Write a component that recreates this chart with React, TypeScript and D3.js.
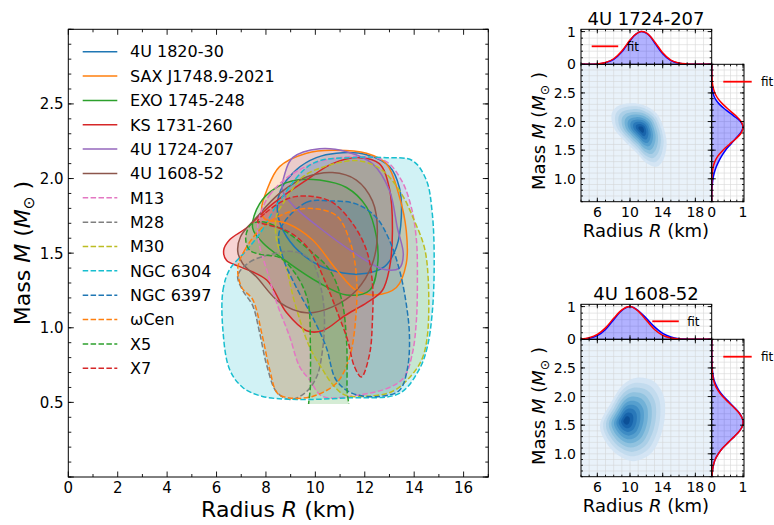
import React from "react";
import * as d3 from "d3";

type P = [number, number];

// ================= MAIN CHART DATA (Radius km, Mass Msun) =================
const sourceNames = [
  "4U 1820-30", "SAX J1748.9-2021", "EXO 1745-248", "KS 1731-260", "4U 1724-207", "4U 1608-52",
  "M13", "M28", "M30", "NGC 6304", "NGC 6397", "ωCen", "X5", "X7",
];
const sourceKinds = ["burst", "burst", "burst", "burst", "burst", "burst",
  "qlmxb", "qlmxb", "qlmxb", "qlmxb", "qlmxb", "qlmxb", "qlmxb", "qlmxb"];
const massPriorMin = 0.49;

const c4U1820: P[] = [[10.04, 2.14], [10.85, 2.17], [12.07, 2.16], [13.0, 2.08], [13.4, 1.94], [13.48, 1.74], [13.28, 1.54], [12.8, 1.41], [11.78, 1.36], [10.57, 1.39], [9.64, 1.47], [8.84, 1.61], [8.47, 1.77], [8.59, 1.92], [9.24, 2.06]];
const cSAX: P[] = [[7.82, 1.79], [8.03, 1.92], [8.55, 2.08], [9.64, 2.17], [10.7, 2.19], [12.07, 2.17], [12.87, 2.1], [13.4, 1.88], [13.68, 1.65], [13.68, 1.43], [13.28, 1.27], [12.39, 1.22], [11.66, 1.25], [10.85, 1.39], [9.88, 1.59], [8.84, 1.7], [7.95, 1.73]];
const cEXO: P[] = [[7.74, 1.83], [8.43, 1.94], [9.24, 1.99], [10.17, 1.99], [11.26, 1.94], [12.07, 1.81], [12.47, 1.61], [12.51, 1.41], [12.19, 1.25], [11.26, 1.22], [10.17, 1.3], [8.96, 1.43], [7.87, 1.57], [7.46, 1.67]];
const cKS: P[] = [[6.29, 1.52], [6.53, 1.59], [7.22, 1.67], [8.27, 1.83], [9.64, 1.99], [10.69, 2.1], [11.78, 2.14], [12.59, 2.1], [12.99, 1.94], [13.12, 1.65], [12.99, 1.39], [12.71, 1.25], [12.1, 1.17], [11.18, 1.08], [10.29, 0.98], [9.64, 0.98], [8.84, 1.1], [8.03, 1.32], [6.94, 1.41], [6.41, 1.45]];
const c4U1724: P[] = [[8.67, 1.92], [8.76, 2.03], [9.08, 2.14], [10.17, 2.2], [11.26, 2.18], [12.31, 2.1], [13.0, 1.92], [13.32, 1.67], [13.56, 1.49], [13.4, 1.4], [12.8, 1.39], [11.5, 1.51], [10.17, 1.67], [9.16, 1.81]];
const c4U1608: P[] = [[6.86, 1.51], [6.97, 1.61], [7.62, 1.74], [8.55, 1.9], [9.64, 2.01], [10.69, 2.04], [11.66, 1.99], [12.31, 1.85], [12.51, 1.65], [12.31, 1.43], [11.66, 1.25], [10.69, 1.14], [9.64, 1.1], [8.55, 1.17], [7.62, 1.34], [7.06, 1.43]];
const cM13: P[] = [[7.67, 1.69], [8.15, 1.89], [9.36, 2.06], [10.98, 2.14], [12.8, 2.12], [13.48, 1.99], [13.88, 1.81], [14.09, 1.59], [14.13, 1.32], [14.09, 1.05], [13.93, 0.83], [13.6, 0.67], [13.0, 0.6], [11.78, 0.55], [10.29, 0.54], [9.77, 0.65], [9.36, 0.74], [8.96, 0.94], [8.43, 1.17], [8.03, 1.39], [7.74, 1.55]];
const cM28: P[] = [[6.86, 1.35], [7.34, 1.44], [8.15, 1.49], [9.15, 1.51], [9.84, 1.45], [10.25, 1.25], [10.37, 1.05], [10.29, 0.85], [10.05, 0.67], [9.56, 0.56], [8.96, 0.52], [8.43, 0.57], [8.03, 0.75], [7.74, 0.97], [7.46, 1.15], [7.06, 1.25]];
const cM30: P[] = [[8.43, 1.75], [8.84, 1.87], [9.48, 2.01], [10.37, 2.08], [11.7, 2.12], [12.67, 2.06], [13.48, 1.9], [14.0, 1.72], [14.41, 1.54], [14.57, 1.32], [14.53, 0.94], [14.29, 0.78], [13.72, 0.65], [13.07, 0.57], [11.98, 0.54], [11.18, 0.55], [10.65, 0.63], [10.29, 0.72], [9.77, 0.87], [9.16, 1.17], [8.84, 1.39], [8.43, 1.59]];
const cNGC6304: P[] = [[6.26, 0.98], [6.26, 1.25], [6.53, 1.39], [7.22, 1.52], [7.83, 1.65], [8.55, 1.85], [9.88, 2.1], [11.5, 2.14], [12.87, 2.14], [13.93, 2.12], [14.49, 1.99], [14.73, 1.77], [14.81, 1.43], [14.73, 1.1], [14.53, 0.87], [14.2, 0.72], [13.4, 0.56], [11.26, 0.53], [9.24, 0.52], [7.86, 0.54], [7.06, 0.6], [6.53, 0.72]];
const cNGC6397: P[] = [[8.55, 1.65], [9.63, 1.84], [10.57, 1.85], [11.65, 1.83], [12.46, 1.74], [12.99, 1.59], [13.4, 1.39], [13.67, 1.17], [13.81, 0.94], [13.72, 0.72], [13.4, 0.58], [12.59, 0.54], [11.5, 0.56], [10.84, 0.65], [10.44, 0.87], [9.89, 1.07], [9.23, 1.27], [8.67, 1.48]];
const cOmegaCen: P[] = [[6.86, 1.4], [7.14, 1.52], [7.83, 1.67], [8.83, 1.77], [9.88, 1.8], [10.86, 1.75], [11.38, 1.59], [11.65, 1.37], [11.65, 1.1], [11.38, 0.8], [10.86, 0.63], [9.88, 0.54], [8.96, 0.53], [8.47, 0.56], [8.15, 0.72], [7.86, 0.94], [7.46, 1.19], [7.02, 1.27]];
const cX5: P[] = [[7.38, 1.69], [7.83, 1.71], [8.75, 1.65], [9.76, 1.52], [10.57, 1.39], [11.06, 1.19], [11.26, 0.92], [11.28, 0.6], [11.27, 0.4], [9.83, 0.4], [9.8, 0.62], [9.8, 0.85], [9.68, 1.19], [9.16, 1.37], [8.55, 1.47], [7.83, 1.49], [7.34, 1.52], [7.18, 1.6]];
const cX7: P[] = [[7.66, 1.71], [7.98, 1.77], [8.96, 1.87], [9.88, 1.88], [10.69, 1.84], [11.5, 1.7], [12.07, 1.52], [12.31, 1.3], [12.31, 1.05], [12.19, 0.82], [11.86, 0.67], [11.58, 0.74], [11.3, 0.92], [10.9, 1.1], [10.37, 1.32], [9.77, 1.52], [8.96, 1.64], [8.07, 1.69]];

const contourList: P[][] = [c4U1820, cSAX, cEXO, cKS, c4U1724, c4U1608, cM13, cM28, cM30, cNGC6304, cNGC6397, cOmegaCen, cX5, cX7];
const palette = ["#1f77b4", "#ff7f0e", "#2ca02c", "#d62728", "#9467bd", "#8c564b",
  "#e377c2", "#7f7f7f", "#bcbd22", "#17becf", "#1f77b4", "#ff7f0e", "#2ca02c", "#d62728"];

const xTicksMain = [0, 2, 4, 6, 8, 10, 12, 14, 16];
const yTicksMain = [0.5, 1.0, 1.5, 2.0, 2.5];

// ================= SIDE PANELS DATA =================
const panelTitles = ["4U 1724-207", "4U 1608-52"];
const kdeOutline1724: P[] = [[8.37, 2.26], [10.0, 2.32], [11.63, 2.29], [13.27, 2.14], [14.07, 1.91], [14.49, 1.62], [14.07, 1.33], [13.27, 1.21], [12.04, 1.27], [10.82, 1.45], [9.18, 1.68], [7.95, 1.91], [7.76, 2.14]];
const kdeCenter1724: P = [11.4, 1.87];
const kdeOutline1608: P[] = [[6.33, 1.51], [7.55, 1.86], [9.18, 2.21], [10.82, 2.33], [12.85, 2.27], [14.07, 2.03], [14.28, 1.68], [13.67, 1.28], [12.45, 0.99], [10.4, 0.87], [8.37, 0.99], [6.73, 1.28]];
const kdeCenter1608: P = [9.5, 1.58];
const kdeLevelScales = [1, 0.88, 0.77, 0.66, 0.56, 0.46, 0.37, 0.28, 0.19, 0.1];

const topBlue1724: P[] = [[4, 0], [5, 0], [6, 0.01], [7, 0.05], [8, 0.15], [9, 0.38], [9.5, 0.55], [10, 0.72], [10.5, 0.87], [11, 0.97], [11.4, 1.0], [12, 0.95], [12.5, 0.84], [13, 0.66], [13.5, 0.48], [14, 0.32], [15, 0.11], [16, 0.03], [17, 0.005], [18, 0], [19, 0], [20, 0]];
const topRed1724: P[] = [[4, 0], [5, 0.002], [6, 0.012], [7, 0.055], [8, 0.17], [9, 0.41], [9.5, 0.57], [10, 0.74], [10.5, 0.88], [11, 0.97], [11.4, 1.0], [12, 0.96], [12.5, 0.85], [13, 0.69], [13.5, 0.52], [14, 0.35], [15, 0.13], [16, 0.04], [17, 0.01], [18, 0], [19, 0], [20, 0]];
const rightBlue1724: P[] = [[0.6, 0], [0.8, 0.005], [0.9, 0.02], [1.0, 0.04], [1.1, 0.08], [1.2, 0.14], [1.3, 0.22], [1.4, 0.32], [1.5, 0.44], [1.6, 0.6], [1.7, 0.76], [1.8, 0.92], [1.9, 1.0], [2.0, 0.92], [2.1, 0.7], [2.2, 0.46], [2.3, 0.25], [2.4, 0.11], [2.5, 0.04], [2.6, 0.01], [2.7, 0], [3.0, 0]];
const rightRed1724: P[] = [[0.6, 0], [0.9, 0.002], [1.0, 0.006], [1.1, 0.017], [1.2, 0.044], [1.3, 0.1], [1.4, 0.2], [1.5, 0.36], [1.6, 0.56], [1.7, 0.77], [1.8, 0.94], [1.9, 1.0], [2.0, 0.94], [2.1, 0.77], [2.2, 0.56], [2.3, 0.36], [2.4, 0.2], [2.5, 0.1], [2.6, 0.044], [2.7, 0.017], [2.8, 0.006], [3.0, 0]];
const topBlue1608: P[] = [[4, 0.005], [5, 0.03], [6, 0.11], [7, 0.3], [8, 0.6], [9, 0.88], [10, 1.0], [11, 0.88], [12, 0.64], [13, 0.38], [14, 0.18], [15, 0.07], [16, 0.02], [17, 0.005], [18, 0], [20, 0]];
const topRed1608: P[] = [[4, 0.01], [5, 0.05], [6, 0.15], [7, 0.35], [8, 0.64], [9, 0.9], [10, 1.0], [11, 0.86], [12, 0.58], [13, 0.3], [14, 0.12], [15, 0.04], [16, 0.01], [17, 0.002], [18, 0], [20, 0]];
const rightBlue1608: P[] = [[0.6, 0.01], [0.7, 0.025], [0.8, 0.055], [0.9, 0.11], [1.0, 0.21], [1.1, 0.35], [1.2, 0.53], [1.3, 0.72], [1.4, 0.89], [1.5, 0.99], [1.55, 1.0], [1.6, 0.99], [1.7, 0.9], [1.8, 0.74], [1.9, 0.56], [2.0, 0.38], [2.1, 0.24], [2.2, 0.14], [2.3, 0.07], [2.4, 0.035], [2.5, 0.015], [2.6, 0.005], [2.8, 0], [3.0, 0]];
const rightRed1608: P[] = [[0.6, 0.009], [0.7, 0.023], [0.8, 0.053], [0.9, 0.11], [1.0, 0.21], [1.1, 0.35], [1.2, 0.53], [1.3, 0.72], [1.4, 0.89], [1.5, 0.99], [1.55, 1.0], [1.6, 0.99], [1.7, 0.89], [1.8, 0.72], [1.9, 0.53], [2.0, 0.35], [2.1, 0.21], [2.2, 0.11], [2.3, 0.053], [2.4, 0.023], [2.5, 0.009], [2.6, 0.003], [2.8, 0], [3.0, 0]];

const jointXTicks = [6, 10, 14, 18];
const jointYTicks = [1.0, 1.5, 2.0, 2.5];
const margTicks = [0, 1];

const FONT = "DejaVu Sans, sans-serif";

function range(a: number, b: number, s: number) {
  const out: number[] = [];
  for (let v = a; v <= b + 1e-9; v += s) out.push(Math.round(v * 1000) / 1000);
  return out;
}

function TickFrame({ x, y, xMaj, xMin, yMaj, yMin, lMaj, lMin }: any) {
  const [x0, x1] = x.range();
  const [y0, y1] = y.range();
  const lines: any[] = [];
  const add = (list: number[], len: number, key: string) => {
    list.forEach((v, i) => {
      const px = x(v);
      if (px < x0 - 0.1 || px > x1 + 0.1) return;
      lines.push(<line key={key + "b" + i} x1={px} x2={px} y1={y0} y2={y0 - len} />);
      lines.push(<line key={key + "t" + i} x1={px} x2={px} y1={y1} y2={y1 + len} />);
    });
  };
  const addY = (list: number[], len: number, key: string) => {
    list.forEach((v, i) => {
      const py = y(v);
      if (py > y0 + 0.1 || py < y1 - 0.1) return;
      lines.push(<line key={key + "l" + i} x1={x0} x2={x0 + len} y1={py} y2={py} />);
      lines.push(<line key={key + "r" + i} x1={x1} x2={x1 - len} y1={py} y2={py} />);
    });
  };
  add(xMin, lMin, "xm");
  add(xMaj, lMaj, "xM");
  addY(yMin, lMin, "ym");
  addY(yMaj, lMaj, "yM");
  return (
    <g stroke="#000" strokeWidth={0.9}>
      {lines}
      <rect x={x0} y={y1} width={x1 - x0} height={y0 - y1} fill="none" stroke="#000" strokeWidth={1} />
    </g>
  );
}

function Grid({ x, y, xs, ys }: any) {
  const [x0, x1] = x.range();
  const [y0, y1] = y.range();
  return (
    <g stroke="#cfcfcf" strokeWidth={0.6} opacity={0.8}>
      {xs.map((v: number, i: number) => <line key={"gx" + i} x1={x(v)} x2={x(v)} y1={y0} y2={y1} />)}
      {ys.map((v: number, i: number) => <line key={"gy" + i} x1={x0} x2={x1} y1={y(v)} y2={y(v)} />)}
    </g>
  );
}

function MassLabel({ x, y, size }: any) {
  return (
    <text transform={`translate(${x},${y}) rotate(-90)`} textAnchor="middle" fontSize={size} fontFamily={FONT}>
      Mass <tspan fontStyle="italic">M</tspan> (<tspan fontStyle="italic">M</tspan>
      <tspan fontSize={size * 0.7} dy={size * 0.2}>⊙</tspan>
      <tspan dy={-size * 0.2}> )</tspan>
    </text>
  );
}

function RadiusLabel({ x, y, size }: any) {
  return (
    <text x={x} y={y} textAnchor="middle" fontSize={size} fontFamily={FONT}>
      Radius <tspan fontStyle="italic">R</tspan> (km)
    </text>
  );
}

function MainChart() {
  const x = d3.scaleLinear().domain([0, 17]).range([68.3, 488.3]);
  const y = d3.scaleLinear().domain([0, 3]).range([477, 29.3]);
  const line = d3.line<P>().x(d => x(d[0])).y(d => y(d[1])).curve(d3.curveCatmullRomClosed.alpha(0.5));
  const legendY0 = 51.7;
  const legendStep = 24.35;
  const clipY = y(massPriorMin);
  return (
    <g>
      <defs>
        <clipPath id="mainclip"><rect x={68.3} y={29.3} width={420} height={clipY - 29.3} /></clipPath>
      </defs>
      <g clipPath="url(#mainclip)">
        {contourList.map((pts, i) => (
          <path key={"f" + i} d={line(pts) || ""} fill={palette[i]} fillOpacity={0.2} stroke="none" />
        ))}
        {contourList.map((pts, i) => (
          <path key={"s" + i} d={line(pts) || ""} fill="none" stroke={palette[i]} strokeWidth={1.5}
            strokeDasharray={sourceKinds[i] === "qlmxb" ? "5.5,2.4" : undefined} />
        ))}
      </g>
      <TickFrame x={x} y={y} xMaj={range(0, 17, 2)} xMin={range(1, 17, 2)} yMaj={range(0, 3, 0.5)} yMin={range(0, 3, 0.1)} lMaj={5.5} lMin={3} />
      {xTicksMain.map(v => (
        <text key={"xl" + v} x={x(v)} y={493} textAnchor="middle" fontSize={15} fontFamily={FONT}>{v}</text>
      ))}
      {yTicksMain.map(v => (
        <text key={"yl" + v} x={63.5} y={y(v)} dy="0.36em" textAnchor="end" fontSize={15} fontFamily={FONT}>{v.toFixed(1)}</text>
      ))}
      <RadiusLabel x={278.3} y={517} size={22} />
      <MassLabel x={30} y={253} size={22} />
      {sourceNames.map((name, i) => {
        const ly = legendY0 + i * legendStep;
        return (
          <g key={"lg" + i}>
            <line x1={82.7} x2={117.3} y1={ly} y2={ly} stroke={palette[i]} strokeWidth={1.5}
              strokeDasharray={sourceKinds[i] === "qlmxb" ? "5.5,2.4" : undefined} />
            <text x={130} y={ly} dy="0.36em" fontSize={16} fontFamily={FONT}>{name}</text>
          </g>
        );
      })}
    </g>
  );
}

function SidePanel({ dy, title, outline, center, topBlue, topRed, rightBlue, rightRed, topLegendX, id }: any) {
  const jx = d3.scaleLinear().domain([4, 20]).range([581, 711.7]);
  const jy = d3.scaleLinear().domain([0.6, 3.0]).range([201.7 + dy, 64.3 + dy]);
  const ty = d3.scaleLinear().domain([0, 1.07]).range([64.3 + dy, 29.3 + dy]);
  const rx = d3.scaleLinear().domain([0, 1.03]).range([711.7, 744]);

  const kdeLine = d3.line<P>().x(d => jx(d[0])).y(d => jy(d[1])).curve(d3.curveCatmullRomClosed.alpha(0.5));
  const levels = kdeLevelScales.map((s: number) =>
    outline.map((p: P) => [center[0] + s * (p[0] - center[0]), center[1] + s * (p[1] - center[1])] as P));

  const topLine = d3.line<P>().x(d => jx(d[0])).y(d => ty(d[1])).curve(d3.curveMonotoneX);
  const topArea = d3.area<P>().x(d => jx(d[0])).y0(ty(0)).y1(d => ty(d[1])).curve(d3.curveMonotoneX);
  const rightLine = d3.line<P>().x(d => rx(d[1])).y(d => jy(d[0])).curve(d3.curveCatmullRom.alpha(0.5));
  const rightArea = d3.area<P>().y(d => jy(d[0])).x0(rx(0)).x1(d => rx(d[1])).curve(d3.curveCatmullRom.alpha(0.5));

  const jointTop = 64.3 + dy, jointBot = 201.7 + dy;
  return (
    <g>
      <defs>
        <clipPath id={"jc" + id}><rect x={581} y={jointTop} width={130.7} height={137.4} /></clipPath>
        <clipPath id={"tc" + id}><rect x={581} y={29.3 + dy} width={130.7} height={35} /></clipPath>
        <clipPath id={"rc" + id}><rect x={711.7} y={jointTop} width={32.3} height={137.4} /></clipPath>
      </defs>
      <g clipPath={`url(#jc${id})`}>
        <rect x={581} y={jointTop} width={130.7} height={137.4} fill={d3.interpolateBlues(0.07)} />
        <Grid x={jx} y={jy} xs={range(5, 19, 1)} ys={range(0.7, 2.9, 0.1)} />
        {levels.map((pts: P[], i: number) => (
          <path key={"lv" + i} d={kdeLine(pts) || ""} fill={d3.interpolateBlues(0.18 + i * 0.078)} fillOpacity={0.95} />
        ))}
      </g>
      <TickFrame x={jx} y={jy} xMaj={range(6, 18, 4)} xMin={range(4, 20, 1)} yMaj={range(1.0, 2.5, 0.5)} yMin={range(0.6, 3.0, 0.1)} lMaj={4} lMin={2} />
      <g clipPath={`url(#tc${id})`}>
        <Grid x={jx} y={ty} xs={range(5, 19, 1)} ys={range(0.2, 1.0, 0.2)} />
        <path d={topArea(topBlue) || ""} fill="#0000ff" fillOpacity={0.3} />
        <path d={topLine(topBlue) || ""} fill="none" stroke="#0000ff" strokeWidth={1.5} />
        <path d={topLine(topRed) || ""} fill="none" stroke="#ff0000" strokeWidth={1.5} />
      </g>
      <TickFrame x={jx} y={ty} xMaj={range(6, 18, 4)} xMin={range(4, 20, 1)} yMaj={[0, 1]} yMin={range(0, 1, 0.2)} lMaj={4} lMin={2} />
      <g clipPath={`url(#rc${id})`}>
        <Grid x={rx} y={jy} xs={range(0.2, 1.0, 0.2)} ys={range(0.7, 2.9, 0.1)} />
        <path d={rightArea(rightBlue) || ""} fill="#0000ff" fillOpacity={0.3} />
        <path d={rightLine(rightBlue) || ""} fill="none" stroke="#0000ff" strokeWidth={1.5} />
        <path d={rightLine(rightRed) || ""} fill="none" stroke="#ff0000" strokeWidth={1.5} />
      </g>
      <TickFrame x={rx} y={jy} xMaj={[0, 1]} xMin={range(0, 1, 0.2)} yMaj={range(1.0, 2.5, 0.5)} yMin={range(0.6, 3.0, 0.1)} lMaj={4} lMin={2} />
      {jointXTicks.map(v => (
        <text key={"jx" + v} x={jx(v)} y={jointBot + 15} textAnchor="middle" fontSize={14} fontFamily={FONT}>{v}</text>
      ))}
      {margTicks.map(v => (
        <text key={"rx" + v} x={rx(v)} y={jointBot + 15} textAnchor="middle" fontSize={14} fontFamily={FONT}>{v}</text>
      ))}
      {jointYTicks.map(v => (
        <text key={"jy" + v} x={576} y={jy(v)} dy="0.36em" textAnchor="end" fontSize={14} fontFamily={FONT}>{v.toFixed(1)}</text>
      ))}
      {margTicks.map(v => (
        <text key={"ty" + v} x={576} y={ty(v)} dy="0.36em" textAnchor="end" fontSize={14} fontFamily={FONT}>{v}</text>
      ))}
      <text x={646} y={25 + dy} textAnchor="middle" fontSize={18} fontFamily={FONT}>{title}</text>
      <RadiusLabel x={646} y={237 + dy} size={18} />
      <MassLabel x={545} y={131 + dy} size={18} />
      <line x1={topLegendX} x2={topLegendX + 26.5} y1={ty(0.55)} y2={ty(0.55)} stroke="#ff0000" strokeWidth={1.8} />
      <text x={topLegendX + 35} y={ty(0.55)} dy="0.36em" fontSize={12} fontFamily={FONT}>fit</text>
      <line x1={723.3} x2={751.7} y1={81.7 + dy} y2={81.7 + dy} stroke="#ff0000" strokeWidth={1.8} />
      <text x={761} y={81.7 + dy} dy="0.36em" fontSize={12} fontFamily={FONT}>fit</text>
    </g>
  );
}

export default function App() {
  return (
    <svg width={774} height={525} viewBox="0 0 774 525"
      style={{ position: "absolute", left: 0, top: 0, background: "#fff" }}>
      <rect x={0} y={0} width={774} height={525} fill="#fff" />
      <MainChart />
      <SidePanel id="a" dy={0} title={panelTitles[0]} outline={kdeOutline1724} center={kdeCenter1724}
        topBlue={topBlue1724} topRed={topRed1724} rightBlue={rightBlue1724} rightRed={rightRed1724} topLegendX={591.7} />
      <SidePanel id="b" dy={275} title={panelTitles[1]} outline={kdeOutline1608} center={kdeCenter1608}
        topBlue={topBlue1608} topRed={topRed1608} rightBlue={rightBlue1608} rightRed={rightRed1608} topLegendX={652.3} />
    </svg>
  );
}
